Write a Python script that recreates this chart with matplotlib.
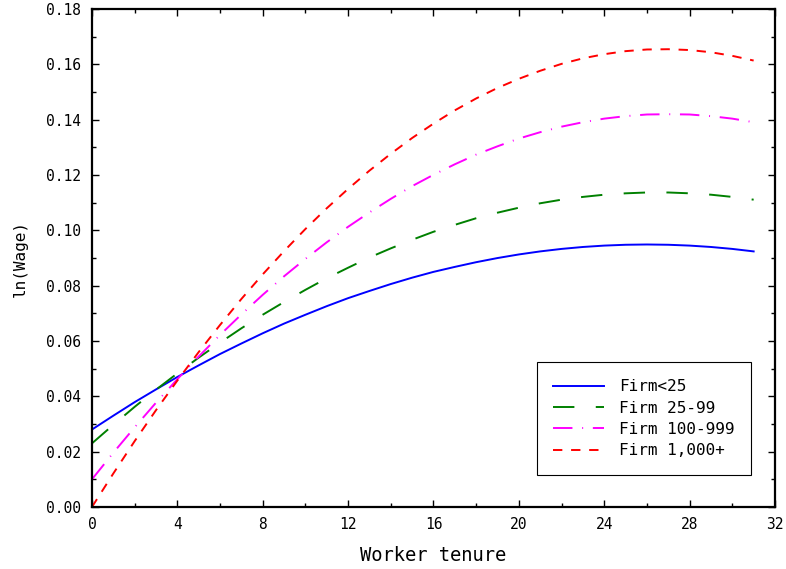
import numpy as np
import matplotlib
matplotlib.use("Agg")
import matplotlib.pyplot as plt
from matplotlib.ticker import MultipleLocator, FormatStrFormatter

# tenure in years
tenure = list(range(0, 32))

# ln(wage) profiles, one per firm size group
firm_lt25 = [0.0280, 0.0330, 0.0379, 0.0425, 0.0470, 0.0512, 0.0553, 0.0591,
             0.0628, 0.0663, 0.0695, 0.0726, 0.0755, 0.0781, 0.0806, 0.0829,
             0.0850, 0.0868, 0.0885, 0.0900, 0.0913, 0.0924, 0.0933, 0.0940,
             0.0945, 0.0948, 0.0949, 0.0948, 0.0945, 0.0940, 0.0933, 0.0924]
firm_25_99 = [0.0230, 0.0297, 0.0362, 0.0424, 0.0483, 0.0540, 0.0594, 0.0646,
              0.0695, 0.0741, 0.0785, 0.0827, 0.0865, 0.0902, 0.0935, 0.0966,
              0.0995, 0.1020, 0.1044, 0.1064, 0.1082, 0.1098, 0.1111, 0.1121,
              0.1129, 0.1134, 0.1137, 0.1137, 0.1134, 0.1129, 0.1121, 0.1111]
firm_100_999 = [0.0100, 0.0196, 0.0288, 0.0377, 0.0462, 0.0544, 0.0622, 0.0696,
                0.0767, 0.0834, 0.0897, 0.0957, 0.1013, 0.1065, 0.1114, 0.1160,
                0.1201, 0.1239, 0.1274, 0.1304, 0.1332, 0.1355, 0.1375, 0.1391,
                0.1404, 0.1413, 0.1419, 0.1420, 0.1419, 0.1413, 0.1404, 0.1391]
firm_1000 = [0.0000, 0.0121, 0.0238, 0.0350, 0.0457, 0.0560, 0.0658, 0.0752,
             0.0841, 0.0925, 0.1005, 0.1080, 0.1150, 0.1216, 0.1277, 0.1334,
             0.1386, 0.1434, 0.1477, 0.1515, 0.1548, 0.1577, 0.1602, 0.1622,
             0.1637, 0.1648, 0.1654, 0.1655, 0.1652, 0.1644, 0.1631, 0.1614]

labels = ["Firm<25", "Firm 25-99", "Firm 100-999", "Firm 1,000+"]

plt.rcParams["font.family"] = ["DejaVu Sans Mono"]
plt.rcParams["font.size"] = 10.5

fig = plt.figure(figsize=(7.86, 5.69), dpi=100)
ax = fig.add_axes([0.117, 0.109, 0.869, 0.875])

ax.plot(tenure, firm_lt25, color="blue", lw=1.4, ls="-", label=labels[0])
ax.plot(tenure, firm_25_99, color="green", lw=1.4, ls=(0, (11, 11)), label=labels[1])
ax.plot(tenure, firm_100_999, color="magenta", lw=1.4,
        ls=(0, (10, 5, 0.5, 5)), label=labels[2])
ax.plot(tenure, firm_1000, color="red", lw=1.4, ls=(0, (4.8, 4.5)), label=labels[3])

ax.set_xlim(0, 32)
ax.set_ylim(0, 0.18)
ax.xaxis.set_major_locator(MultipleLocator(4))
ax.xaxis.set_minor_locator(MultipleLocator(2))
ax.yaxis.set_major_locator(MultipleLocator(0.02))
ax.yaxis.set_minor_locator(MultipleLocator(0.01))
ax.yaxis.set_major_formatter(FormatStrFormatter("%.2f"))
ax.tick_params(which="both", direction="in", top=True, right=True, width=1.0)
ax.tick_params(which="major", length=5)
ax.tick_params(which="minor", length=3)
ax.tick_params(axis="y", pad=8)
ax.tick_params(axis="x", pad=7)
for s in ax.spines.values():
    s.set_linewidth(1.6)

ax.set_xlabel("Worker tenure", fontsize=13.5, labelpad=10)
ax.set_ylabel("ln(Wage)", fontsize=11.5, labelpad=13)

leg = ax.legend(loc="lower right", bbox_to_anchor=(0.965, 0.064),
                fancybox=False, framealpha=1, edgecolor="black", fontsize=11.5,
                handlelength=3.2, labelspacing=0.4, borderpad=1.05,
                handletextpad=0.9, borderaxespad=0)
leg.get_frame().set_linewidth(0.8)

fig.savefig("out.png", dpi=100)
